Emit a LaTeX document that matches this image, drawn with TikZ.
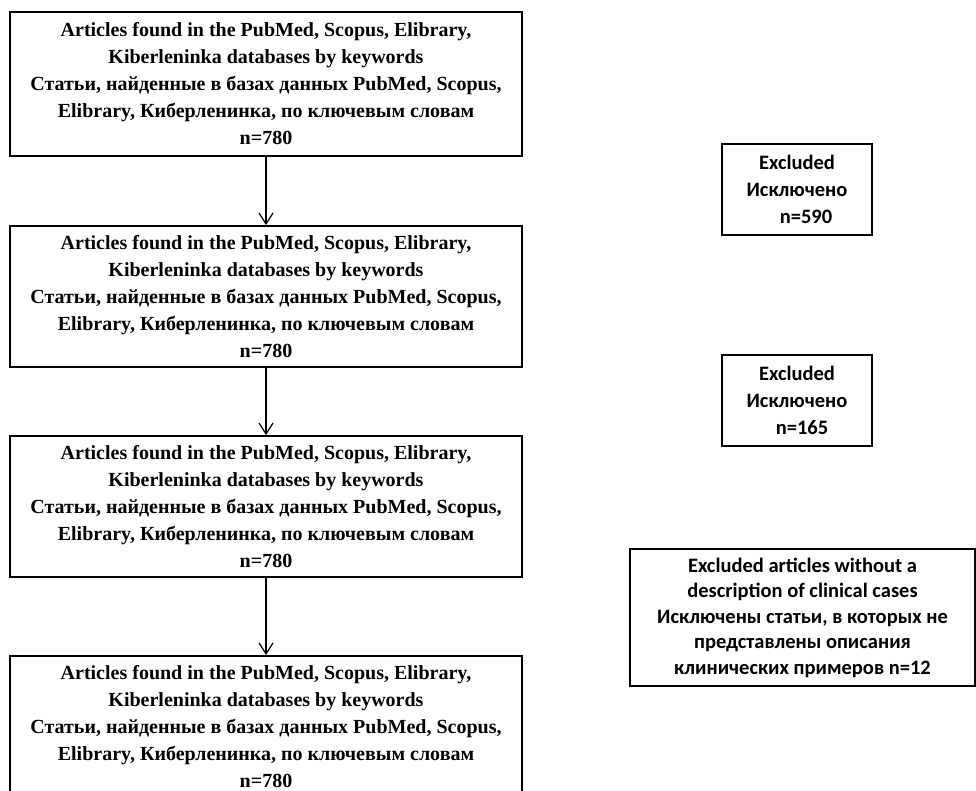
\documentclass[tikz,border=0pt]{standalone}
\usepackage{fontspec}
\setmainfont{Liberation Serif}
\newfontfamily\calibfont{Carlito}
\usetikzlibrary{arrows.meta}
\tikzset{
  mainbox/.style={draw=black, line width=1.8pt, minimum width=512pt, inner sep=0pt,
    align=center, font=\bfseries\fontsize{20}{27}\selectfont},
  exbox/.style={draw=black, line width=1.8pt, inner sep=0pt,
    align=center, font=\calibfont\bfseries\fontsize{20.5}{27}\selectfont},
  flow/.style={line width=1.2pt, -{Straight Barb[length=11pt,width=14pt,line width=1.2pt]}}
}
\newcommand{\artext}{Articles found in the PubMed, Scopus, Elibrary,\\ Kiberleninka databases by keywords\\ Статьи, найденные в базах данных PubMed, Scopus,\\ Elibrary, Киберленинка, по ключевым словам\\ n=780}
\begin{document}
\begin{tikzpicture}[x=1pt,y=-1pt]
\useasboundingbox (0,0) rectangle (976,791);
\clip (0,0) rectangle (976,791);
\fill[white] (0,0) rectangle (976,791);
\node[mainbox, minimum height=144pt] (b1) at (266,84) {\artext};
\node[mainbox, minimum height=141pt] (b2) at (266,296.5) {\artext};
\node[mainbox, minimum height=141pt] (b3) at (266,506.5) {\artext};
\node[mainbox, minimum height=141pt, anchor=north] (b4) at (266,655) {\artext};
\draw[flow] (b1) -- (b2);
\draw[flow] (b2) -- (b3);
\draw[flow] (b3) -- (b4);
\node[exbox, minimum width=150pt, minimum height=91pt] (e1) at (797,189.5) {Excluded\\ Исключено\\ \hspace*{18pt}n=590};
\node[exbox, minimum width=150pt, minimum height=91pt] (e2) at (797,400.5) {Excluded\\ Исключено\\ \hspace*{10pt}n=165};
\node[exbox, minimum width=345pt, minimum height=137pt, font=\calibfont\bfseries\fontsize{20.5}{25.5}\selectfont] (e3) at (802.5,617.5) {Excluded articles without a\\ description of clinical cases\\ Исключены статьи, в которых не\\ представлены описания\\ клинических примеров n=12};
\end{tikzpicture}
\end{document}
